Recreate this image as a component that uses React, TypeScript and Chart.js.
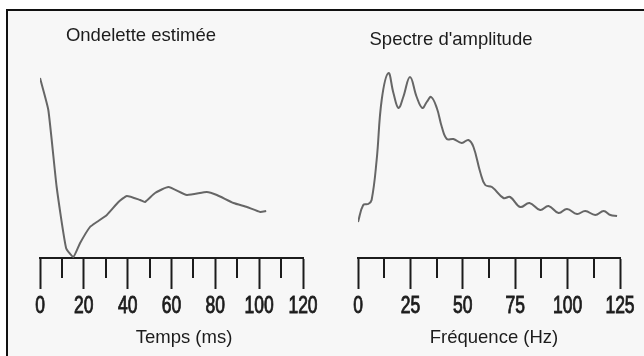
import React, { useEffect, useRef } from 'react';
import { Chart, registerables } from 'chart.js';

Chart.register(...registerables);

// ---- Data ----
const waveletTimeMs = [0, 3.8, 7.6, 11.9, 15.2, 18.3, 22.8, 25.9, 30.5, 35.8, 39.6, 45.7, 47.9, 52.5, 58.6, 67.0, 76.1, 80.7, 88.3, 94.4, 100.5, 103.2];
const waveletAmplitude = [180, 148, 71, 10, 1, 15, 31, 36, 43, 56, 62, 58, 56, 65, 71, 63, 66, 63, 55, 51, 46, 47];

const spectrumFreqHz = [0, 2.5, 4.9, 6.5, 8.9, 11.3, 14.5, 16.9, 19.3, 21.6, 24.8, 28.0, 30.7, 32.8, 34.9, 37.6, 40.0, 42.4, 45.5, 49.5, 52.7, 55.1, 58.3, 60.7, 63.9, 69.4, 72.6, 77.4, 81.8, 86.9, 90.9, 95.7, 99.7, 104.5, 108.4, 113.2, 117.2, 120.4, 123.6];
const spectrumAmplitude = [36, 53, 54, 58, 98, 158, 185, 165, 150, 161, 181, 161, 150, 156, 161, 150, 131, 119, 119, 115, 118, 111, 86, 73, 71, 60, 61, 51, 55, 48, 52, 45, 49, 44, 47, 43, 47, 43, 42];

const timeAxisMax = 120;
const timeTickStep = 10;
const timeLabelStep = 20;
const freqAxisMax = 125;
const freqTickStep = 12.5;
const freqLabelStep = 25;

const waveletTitle = 'Ondelette estimée';
const waveletAxisTitle = 'Temps (ms)';
const spectrumTitle = "Spectre d'amplitude";
const spectrumAxisTitle = 'Fréquence (Hz)';

// ---- Styling ----
const INK = '#1c1c1c';
const CURVE = '#666666';
const TEXT_FONT = "'Liberation Sans', Arial, sans-serif";

function isMultiple(v: number, step: number) {
  const r = v / step;
  return Math.abs(r - Math.round(r)) < 1e-6;
}

// Free text (panel title, axis title)
const panelText = {
  id: 'panelText',
  afterDraw(chart: any, _args: any, opts: any) {
    const ctx = chart.ctx;
    ctx.save();
    for (const it of opts.items || []) {
      ctx.font = it.font;
      ctx.fillStyle = it.color;
      ctx.textAlign = 'center';
      ctx.textBaseline = 'middle';
      ctx.fillText(it.text, it.x, it.y);
    }
    ctx.restore();
  },
};

// Minor (short) ticks and condensed tick labels, placed via the x scale
const axisDecor = {
  id: 'axisDecor',
  afterDraw(chart: any, _args: any, opts: any) {
    const scale = chart.scales.x;
    const ctx = chart.ctx;
    const top = scale.top;
    ctx.save();
    ctx.strokeStyle = INK;
    ctx.lineWidth = 2;
    scale.ticks.forEach((t: any) => {
      if (isMultiple(t.value, opts.labelStep)) return;
      const px = Math.round(scale.getPixelForValue(t.value));
      ctx.beginPath();
      ctx.moveTo(px, top);
      ctx.lineTo(px, top + opts.minorLength);
      ctx.stroke();
    });
    ctx.fillStyle = INK;
    ctx.strokeStyle = INK;
    ctx.lineWidth = 0.9;
    ctx.font = opts.font;
    ctx.textAlign = 'center';
    ctx.textBaseline = 'middle';
    scale.ticks.forEach((t: any) => {
      if (!isMultiple(t.value, opts.labelStep)) return;
      const px = scale.getPixelForValue(t.value);
      const label = t.label !== undefined && t.label !== '' ? String(t.label) : String(t.value);
      ctx.save();
      ctx.translate(px, top + opts.labelOffset);
      ctx.scale(opts.squeeze, 1);
      ctx.fillText(label, 0, 0);
      ctx.strokeText(label, 0, 0);
      ctx.restore();
    });
    ctx.restore();
  },
};

function makeConfig(
  xs: number[],
  ys: number[],
  xMax: number,
  step: number,
  labelStep: number,
  padding: any,
  texts: any[],
  tension: number
): any {
  return {
    type: 'line',
    data: {
      datasets: [
        {
          data: xs.map((x, i) => ({ x, y: ys[i] })),
          borderColor: CURVE,
          borderWidth: 2,
          pointRadius: 0,
          tension,
          fill: false,
        },
      ],
    },
    plugins: [panelText, axisDecor],
    options: {
      responsive: false,
      animation: false,
      events: [],
      layout: { padding },
      plugins: {
        legend: { display: false },
        tooltip: { enabled: false },
        title: { display: false },
        panelText: { items: texts },
        axisDecor: {
          labelStep,
          minorLength: 20,
          labelOffset: 49,
          squeeze: 0.76,
          font: `23px ${TEXT_FONT}`,
        },
      },
      scales: {
        x: {
          type: 'linear',
          min: 0,
          max: xMax,
          border: { display: true, color: INK, width: 2 },
          grid: {
            display: true,
            drawOnChartArea: false,
            drawTicks: true,
            tickLength: 31,
            tickWidth: 2,
            tickColor: (c: any) =>
              c.tick && isMultiple(c.tick.value, labelStep) ? INK : 'rgba(0,0,0,0)',
          },
          ticks: {
            display: false,
            stepSize: step,
            autoSkip: false,
            maxRotation: 0,
            callback: (v: any) => (isMultiple(Number(v), labelStep) ? String(v) : ''),
          },
        },
        y: {
          display: false,
          min: 0,
          max: 200,
        },
      },
    },
  };
}

function Panel(props: { config: any; left: number }) {
  const ref = useRef<HTMLCanvasElement>(null);
  useEffect(() => {
    if (!ref.current) return;
    const chart = new Chart(ref.current, props.config);
    return () => chart.destroy();
  }, []);
  return (
    <canvas
      ref={ref}
      width={322}
      height={356}
      style={{ position: 'absolute', left: props.left, top: 0, width: 322, height: 356 }}
    />
  );
}

export default function App() {
  const titleFont = `18.5px ${TEXT_FONT}`;
  const leftConfig = makeConfig(
    waveletTimeMs,
    waveletAmplitude,
    timeAxisMax,
    timeTickStep,
    timeLabelStep,
    { left: 40, right: 19, top: 58, bottom: 67 },
    [
      { text: waveletTitle, x: 141, y: 36, font: titleFont, color: INK },
      { text: waveletAxisTitle, x: 184, y: 338, font: titleFont, color: INK },
    ],
    0.15
  );
  const rightConfig = makeConfig(
    spectrumFreqHz,
    spectrumAmplitude,
    freqAxisMax,
    freqTickStep,
    freqLabelStep,
    { left: 36, right: 24, top: 58, bottom: 67 },
    [
      { text: spectrumTitle, x: 129, y: 40, font: titleFont, color: INK },
      { text: spectrumAxisTitle, x: 172, y: 338, font: titleFont, color: INK },
    ],
    0.4
  );
  return (
    <div
      style={{
        position: 'fixed',
        left: 0,
        top: 0,
        width: 644,
        height: 356,
        overflow: 'hidden',
        background: '#ffffff',
      }}
    >
      <div
        style={{
          position: 'absolute',
          left: 6,
          top: 9,
          width: 700,
          height: 400,
          borderTop: '2px solid #111',
          borderLeft: '2px solid #111',
          background: '#f7f7f7',
        }}
      />
      <Panel config={leftConfig} left={0} />
      <Panel config={rightConfig} left={322} />
    </div>
  );
}
